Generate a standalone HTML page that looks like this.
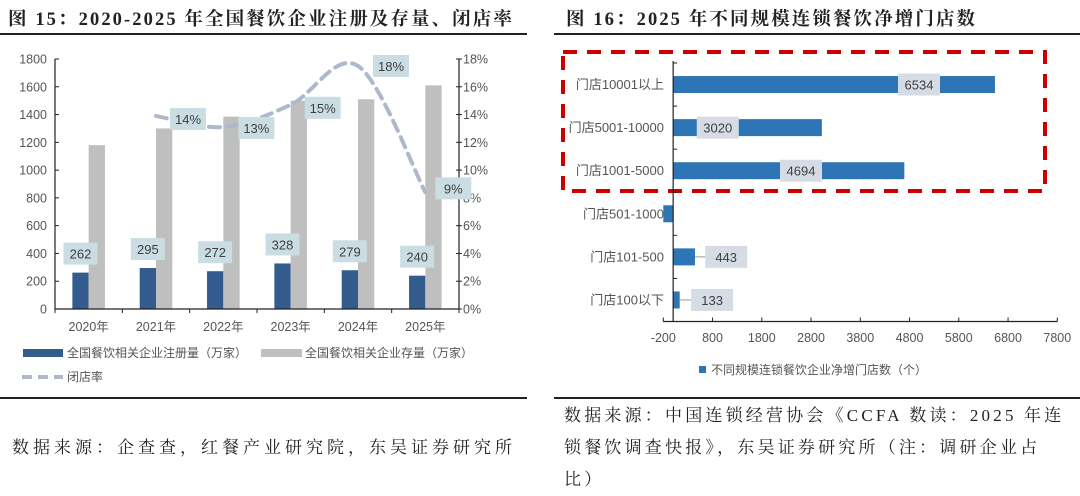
<!DOCTYPE html>
<html><head><meta charset="utf-8">
<style>
html,body{margin:0;padding:0;background:#fff;}
body{width:1080px;height:495px;position:relative;overflow:hidden;font-family:"Liberation Serif","Noto Serif CJK SC",serif;}
.title{position:absolute;top:5px;font-weight:bold;font-size:18.5px;color:#222;white-space:nowrap;letter-spacing:2.1px;}
.rule{position:absolute;height:2px;background:#222;}
.src{position:absolute;font-size:17px;color:#222;line-height:32px;letter-spacing:3.2px;white-space:nowrap;}
svg text{font-family:"Liberation Sans","Noto Sans CJK SC",sans-serif;}
</style></head><body>
<div class="title" style="left:8px">图 15：2020-2025 年全国餐饮企业注册及存量、闭店率</div>
<div class="title" style="left:566px">图 16：2025 年不同规模连锁餐饮净增门店数</div>
<div class="rule" style="left:0;width:527px;top:33px"></div>
<div class="rule" style="left:554px;width:526px;top:33px"></div>
<div class="rule" style="left:0;width:527px;top:397px"></div>
<div class="rule" style="left:554px;width:526px;top:397px"></div>
<div class="src" style="left:12px;top:432px;letter-spacing:4px">数据来源：企查查，红餐产业研究院，东吴证券研究所</div>
<div class="src" style="left:564px;top:400px">数据来源：中国连锁经营协会《CCFA 数读：2025 年连<br>锁餐饮调查快报》，东吴证券研究所（注：调研企业占<br>比）</div>

<svg id="left" width="540" height="395" style="position:absolute;left:0;top:0"></svg>
<svg id="right" width="540" height="395" style="position:absolute;left:540px;top:0"></svg>

<script>
// ---- Left chart data ----
const years = ["2020年","2021年","2022年","2023年","2024年","2025年"];
const registered = [262,295,272,328,279,240];
const stock = [1180,1300,1385,1500,1510,1610];
const closeRate = [null,13.9,13.1,14.7,17.5,8.4];
const closeRateLabels = ["","14%","13%","15%","18%","9%"];
const leftTicks = [0,200,400,600,800,1000,1200,1400,1600,1800];
const rightTicks = [0,2,4,6,8,10,12,14,16,18];

// ---- Right chart data ----
const sizeCats = ["门店10001以上","门店5001-10000","门店1001-5000","门店501-1000","门店101-500","门店100以下"];
const netStores = [6534,3020,4694,-200,443,133];
const netLabels = ["6534","3020","4694","","443","133"];
const xTicks = [-200,800,1800,2800,3800,4800,5800,6800,7800];

const NS="http://www.w3.org/2000/svg";
function mk(parent,tag,attrs,text){const e=document.createElementNS(NS,tag);for(const k in attrs)e.setAttribute(k,attrs[k]);if(text!==undefined)e.textContent=text;parent.appendChild(e);return e;}

// ===== Left chart =====
(function(){
const s=document.getElementById('left');
const x0=55,x1=459,yb=309,yt=59;
const yL=v=>yb-(v/1800)*(yb-yt);
const yR=v=>yb-(v/18)*(yb-yt);
const cw=(x1-x0)/years.length;
const bw=16.3;
years.forEach((y,i)=>{
  const cx=x0+cw*i+cw/2;
  let r=mk(s,'rect',{x:cx-bw,y:yL(registered[i]),width:bw,height:yb-yL(registered[i]),fill:'#335b8e'});
  
  
  let g=mk(s,'rect',{x:cx,y:yL(stock[i]),width:bw,height:yb-yL(stock[i]),fill:'#bfbfbf'});
  
  
});
mk(s,'line',{x1:x0,y1:yt,x2:x0,y2:yb,stroke:'#222','stroke-width':1.2});
mk(s,'line',{x1:x1,y1:yt,x2:x1,y2:yb,stroke:'#222','stroke-width':1.2});
mk(s,'line',{x1:x0,y1:yb,x2:x1,y2:yb,stroke:'#222','stroke-width':1.2});
for(let i=0;i<=years.length;i++){const x=x0+cw*i;mk(s,'line',{x1:x,y1:yb,x2:x,y2:yb+4,stroke:'#222'});}
leftTicks.forEach(v=>{const y=yL(v);mk(s,'line',{x1:x0,y1:y,x2:x0+4,y2:y,stroke:'#222'});
  const t=mk(s,'text',{x:x0-8,y:y+4.5,'text-anchor':'end','font-size':12.5,fill:'#555'},v);
  
  });
rightTicks.forEach(v=>{const y=yR(v);mk(s,'line',{x1:x1-3,y1:y,x2:x1+3,y2:y,stroke:'#222'});
  const t=mk(s,'text',{x:x1+4,y:y+4.5,'font-size':12.5,fill:'#555'},v+'%');
  
  });
years.forEach((y,i)=>{const t=mk(s,'text',{x:x0+cw*i+cw/2,y:331,'text-anchor':'middle','font-size':12.5,fill:'#555'},y);
  
  });
const pts=[];closeRate.forEach((v,i)=>{if(v!==null)pts.push([x0+cw*i+cw/2,yR(v)]);});
let d='M'+pts[0][0]+','+pts[0][1];
for(let i=0;i<pts.length-1;i++){
  const p0=pts[i-1]||pts[i],p1=pts[i],p2=pts[i+1],p3=pts[i+2]||p2;
  const c1=[p1[0]+(p2[0]-p0[0])/6,p1[1]+(p2[1]-p0[1])/6],c2=[p2[0]-(p3[0]-p1[0])/6,p2[1]-(p3[1]-p1[1])/6];
  d+=' C'+c1+' '+c2+' '+p2;
}
const ln=mk(s,'path',{d:d,fill:'none',stroke:'#adb9cb','stroke-width':4,'stroke-dasharray':'11,7','stroke-linecap':'round'});


const rOff=[0,32,33,32,33,28];const rDy=[0,3,1,3,0,-4];
closeRate.forEach((v,i)=>{if(v===null)return;const cx=x0+cw*i+cw/2+rOff[i],cy=yR(v)+rDy[i];
  mk(s,'rect',{x:cx-18,y:cy-11,width:36,height:22,fill:'#c9dde3'});
  const t=mk(s,'text',{x:cx,y:cy+5,'text-anchor':'middle','font-size':13,fill:'#404040'},closeRateLabels[i]);
  
  });
registered.forEach((v,i)=>{const cx=x0+cw*i+cw/2-bw/2,by=yL(v)-8;
  mk(s,'rect',{x:cx-17,y:by-22,width:34,height:22,fill:'#c9dde3'});
  const t=mk(s,'text',{x:cx,y:by-6,'text-anchor':'middle','font-size':13,fill:'#404040'},v);
  
  });
const lg=mk(s,'g',{});


mk(lg,'rect',{x:23,y:349,width:40,height:8,fill:'#335b8e'});
mk(lg,'text',{x:67,y:357,'font-size':12,fill:'#555'},'全国餐饮相关企业注册量（万家）');
mk(lg,'rect',{x:261,y:349,width:41,height:8,fill:'#bfbfbf'});
mk(lg,'text',{x:305,y:357,'font-size':12,fill:'#555'},'全国餐饮相关企业存量（万家）');
mk(lg,'line',{x1:22,y1:377,x2:63,y2:377,stroke:'#adb9cb','stroke-width':4,'stroke-dasharray':'10,6'});
mk(lg,'text',{x:67,y:381,'font-size':12,fill:'#555'},'闭店率');
})();

// ===== Right chart =====
(function(){
const s=document.getElementById('right');
const ox=-540;
const xa=663.3+ox,xb=1057.3+ox,yt=63,yb=321.5;
const X=v=>xa+(v-(-200))/8000*(xb-xa);
const bh=(yb-yt)/sizeCats.length;
const labelFrac=[0.764,0.3,0.553,0,2.43,5.95];
const rb=mk(s,'rect',{x:563+ox,y:52,width:482,height:139,fill:'none',stroke:'#cc0000','stroke-width':4,'stroke-dasharray':'14,10'});


sizeCats.forEach((c,i)=>{
  const cy=yt+bh*i+bh/2,v=netStores[i];
  const r=mk(s,'rect',{x:Math.min(X(0),X(v)),y:cy-8.5,width:Math.abs(X(v)-X(0)),height:17,fill:'#2e75b6'});
  
  
  const t=mk(s,'text',{x:664+ox,y:cy+4.5,'text-anchor':'end','font-size':13,fill:'#555'},c);
  
  
  if(netLabels[i]){
    const lx=X(v*labelFrac[i]);
    if(labelFrac[i]>1){mk(s,'line',{x1:X(v),y1:cy,x2:lx-17,y2:cy,stroke:'#999'});}
    mk(s,'rect',{x:lx-21,y:cy-11,width:42,height:22,fill:'#d6dce5'});
    const l=mk(s,'text',{x:lx,y:cy+5,'text-anchor':'middle','font-size':13,fill:'#404040'},netLabels[i]);
    
    
  }
});
mk(s,'line',{x1:X(0),y1:yt-2,x2:X(0),y2:yb,stroke:'#222','stroke-width':1.2});
for(let i=0;i<=sizeCats.length;i++){const y=yt+bh*i;mk(s,'line',{x1:X(0),y1:y,x2:X(0)+4,y2:y,stroke:'#222'});}
mk(s,'line',{x1:xa,y1:yb,x2:xb,y2:yb,stroke:'#222','stroke-width':1.2});
xTicks.forEach(v=>{mk(s,'line',{x1:X(v),y1:yb-4,x2:X(v),y2:yb,stroke:'#222'});
  const t=mk(s,'text',{x:X(v),y:342,'text-anchor':'middle','font-size':12.5,fill:'#555'},v);
  
  });
const lg=mk(s,'g',{});


mk(lg,'rect',{x:699+ox,y:366,width:7,height:7,fill:'#2e75b6'});
mk(lg,'text',{x:711+ox,y:374,'font-size':12,fill:'#555'},'不同规模连锁餐饮企业净增门店数（个）');
})();
</script>
</body></html>
